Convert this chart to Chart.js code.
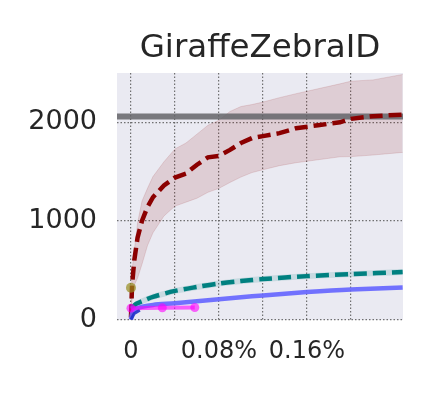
<!DOCTYPE html>
<html>
<head>
<meta charset="utf-8">
<script src="https://cdn.jsdelivr.net/npm/chart.js@4"></script>
<style>
  body { margin: 0; background: #fff; }
  canvas { display: block; }
</style>
</head>
<body>
<canvas id="chart" width="433" height="394"></canvas>
<script>
const chartTitle = 'GiraffeZebraID';

// axis ticks (x in percent)
const xTicks = [0, 0.04, 0.08, 0.12, 0.16, 0.20];
const xLabeled = [0, 0.08, 0.16];
const yTicks = [0, 1000, 2000];

// dark red dashed series with its spread
const redX     = [0, 0.001, 0.003, 0.006, 0.01, 0.015, 0.02, 0.03, 0.04, 0.05, 0.06, 0.07, 0.08, 0.09, 0.10, 0.11, 0.12, 0.135, 0.15, 0.17, 0.19, 0.20, 0.22, 0.247];
const redMean  = [20, 350, 600, 830, 1000, 1140, 1240, 1360, 1440, 1480, 1570, 1645, 1660, 1720, 1790, 1840, 1860, 1890, 1940, 1970, 2000, 2035, 2062, 2078];
const redUpper = [30, 500, 700, 980, 1200, 1330, 1450, 1600, 1730, 1790, 1880, 1970, 2020, 2110, 2160, 2180, 2205, 2250, 2290, 2340, 2390, 2417, 2430, 2485];
const redLower = [10, 200, 350, 420, 560, 750, 880, 1050, 1150, 1190, 1230, 1290, 1330, 1390, 1445, 1490, 1519, 1560, 1590, 1620, 1650, 1652, 1668, 1695];

// teal dashed series with its spread
const tealX     = [0, 0.005, 0.01, 0.02, 0.04, 0.06, 0.08, 0.10, 0.12, 0.16, 0.20, 0.247];
const tealMean  = [110, 160, 185, 230, 290, 330, 365, 390, 410, 440, 460, 482];
const tealUpper = [140, 190, 215, 260, 320, 360, 395, 420, 440, 470, 490, 512];
const tealLower = [80, 130, 155, 200, 260, 300, 335, 360, 380, 410, 430, 452];

// blue solid series
const blueX = [0, 0.001, 0.003, 0.006, 0.01, 0.02, 0.04, 0.06, 0.08, 0.10, 0.12, 0.16, 0.20, 0.247];
const blueY = [0, 60, 95, 115, 130, 148, 165, 185, 205, 225, 244, 278, 305, 325];

// dark blue start segment
const navyX = [0, 0.003, 0.008];
const navyY = [0, 60, 95];

// magenta points
const pinkX = [0, 0.0285, 0.058];
const pinkY = [115, 118, 122];

// olive single point
const oliveX = [0];
const oliveY = [322];

// horizontal reference level
const refLevel = 2060;

const xMin = -0.0127, xMax = 0.2473;
const yMin = -5, yMax = 2500;

const pts = (xs, ys) => xs.map((x, i) => ({ x: x, y: ys[i] }));

const plotBackground = {
    id: 'plotBackground',
    beforeDraw(chart) {
        const { ctx, chartArea } = chart;
        ctx.save();
        ctx.fillStyle = '#EAEAF2';
        ctx.fillRect(chartArea.left, chartArea.top, chartArea.right - chartArea.left, chartArea.bottom - chartArea.top);
        ctx.restore();
    }
};

const titleDraw = {
    id: 'titleDraw',
    afterDraw(chart) {
        const { ctx, chartArea } = chart;
        ctx.save();
        ctx.font = '32.5px "DejaVu Sans"';
        ctx.fillStyle = '#262626';
        ctx.textAlign = 'center';
        ctx.textBaseline = 'alphabetic';
        ctx.fillText(chartTitle, (chartArea.left + chartArea.right) / 2, 57);
        ctx.restore();
    }
};

const line = (data, color, width, extra) => Object.assign({
    data: data,
    borderColor: color,
    borderWidth: width,
    pointRadius: 0,
    fill: false,
    tension: 0
}, extra || {});

// first dataset is drawn on top
new Chart(document.getElementById('chart'), {
    type: 'line',
    data: {
        datasets: [
            line(pts(oliveX, oliveY), 'rgba(0,0,0,0)', 0, { showLine: false, pointRadius: 5, pointBackgroundColor: 'rgba(150,140,30,0.7)', pointBorderWidth: 0 }),
            line(pts(pinkX, pinkY), 'rgba(255,0,255,0.6)', 4, { pointRadius: 4.5, pointBackgroundColor: 'rgba(255,0,255,0.6)', pointBorderWidth: 0 }),
            line(pts(navyX, navyY), 'rgba(30,50,200,0.9)', 3),
            line(pts(blueX, blueY), 'rgba(100,100,255,0.9)', 4.5, { tension: 0.3 }),
            line(pts(tealX, tealMean), '#008080', 4.5, { borderDash: [13, 6], tension: 0.3 }),
            line(pts(redX, redMean), '#8B0000', 4.5, { borderDash: [13, 6] }),
            line(pts([xMin, xMax], [refLevel, refLevel]), 'rgba(100,100,104,0.85)', 6),
            line(pts(tealX, tealUpper), 'rgba(0,128,128,0.12)', 0, { fill: '+1', backgroundColor: 'rgba(0,128,128,0.15)' }),
            line(pts(tealX, tealLower), 'rgba(0,128,128,0.12)', 0),
            line(pts(redX, redUpper), 'rgba(139,0,0,0.12)', 1, { fill: '+1', backgroundColor: 'rgba(139,0,0,0.12)' }),
            line(pts(redX, redLower), 'rgba(139,0,0,0.12)', 1)
        ]
    },
    options: {
        responsive: false,
        animation: false,
        layout: { padding: { top: 73, right: 30, left: 0, bottom: 0 } },
        plugins: {
            legend: { display: false },
            tooltip: { enabled: false },
            title: { display: false }
        },
        scales: {
            x: {
                type: 'linear',
                min: xMin,
                max: xMax,
                afterFit: (scale) => { scale.height = 74; },
                afterBuildTicks: (scale) => { scale.ticks = xTicks.map(v => ({ value: v })); },
                grid: { color: 'rgba(90,90,90,0.85)', lineWidth: 1.2, drawTicks: false },
                border: { display: false, dash: [1.5, 2] },
                ticks: {
                    padding: 17,
                    color: '#262626',
                    font: { family: 'DejaVu Sans', size: 24 },
                    maxRotation: 0,
                    autoSkip: false,
                    callback: (v) => {
                        const hit = xLabeled.find(t => Math.abs(t - v) < 1e-9);
                        if (hit === undefined) return '';
                        return hit === 0 ? '0' : hit.toFixed(2) + '%';
                    }
                }
            },
            y: {
                min: yMin,
                max: yMax,
                afterFit: (scale) => { scale.width = 117; },
                afterBuildTicks: (scale) => { scale.ticks = yTicks.map(v => ({ value: v })); },
                grid: { color: 'rgba(90,90,90,0.85)', lineWidth: 1.2, drawTicks: false },
                border: { display: false, dash: [1.5, 2] },
                ticks: {
                    padding: 20,
                    color: '#262626',
                    font: { family: 'DejaVu Sans', size: 27 },
                    callback: (v) => String(v)
                }
            }
        }
    },
    plugins: [plotBackground, titleDraw]
});
</script>
</body>
</html>
